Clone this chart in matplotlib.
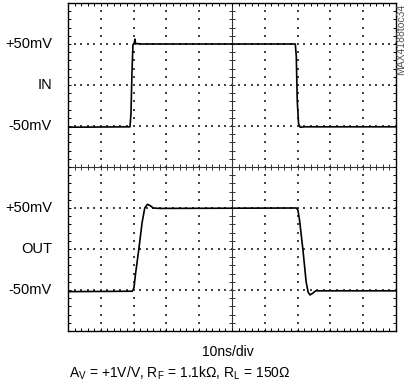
import numpy as np
import matplotlib
matplotlib.use('Agg')
import matplotlib.pyplot as plt
from matplotlib import font_manager

# pick a narrow sans if available
names = set(f.name for f in font_manager.fontManager.ttflist)
narrow = 'Liberation Sans Narrow' if 'Liberation Sans Narrow' in names else 'Liberation Sans'
plt.rcParams['font.family'] = [narrow, 'DejaVu Sans']
plt.rcParams['mathtext.fontset'] = 'custom'
plt.rcParams['mathtext.rm'] = narrow
plt.rcParams['mathtext.it'] = narrow

# scope traces, time in ns, amplitude in divisions (50mV/div)
t_in = [0, 18.9, 19.2, 19.5, 19.8, 20.2, 20.4, 20.6, 21.0, 22.0, 69.3, 69.6, 69.9, 70.3, 70.8, 72.0, 100]
v_in = [0.97, 0.98, 1.3, 2.3, 2.98, 3.02, 3.12, 3.0, 3.01, 3.0, 3.0, 2.7, 1.6, 1.05, 0.97, 0.98, 0.98]

t_out = [0, 19.6, 20.1, 20.6, 21.6, 22.6, 23.4, 24.2, 25.0, 26.0, 28.0, 69.6, 70.1, 70.6, 71.6, 72.6, 73.2, 73.8, 74.6, 75.5, 100]
v_out = [-3.04, -3.03, -2.95, -2.6, -2.0, -1.35, -1.0, -0.91, -0.94, -1.0, -1.01, -1.0, -1.05, -1.3, -2.0, -2.8, -3.05, -3.12, -3.08, -3.02, -3.02]

labels = ['+50mV', 'IN', '-50mV', '+50mV', 'OUT', '-50mV']
label_y = [3, 2, 1, -1, -2, -3]

fig = plt.figure(figsize=(4.09, 3.90), dpi=100)
ax = fig.add_axes([68/409, 59/390, 328/409, 328/390])
ax.set_xlim(0, 100)
ax.set_ylim(-4, 4)

# dotted graticule
for gx in range(10, 100, 10):
    if gx == 50:
        continue
    yy = np.arange(-4, 4.01, 0.2)
    ax.scatter(np.full(len(yy), gx), yy, s=1.2, c='#444444', marker='s', linewidths=0, zorder=1)
for gy in range(-3, 4):
    if gy == 0:
        continue
    xx = np.arange(0, 100.1, 2)
    ax.scatter(xx, np.full(len(xx), gy), s=1.2, c='#444444', marker='s', linewidths=0, zorder=1)

# center axes with ticks
ax.axhline(0, color='#333333', lw=0.8, zorder=1)
ax.axvline(50, color='#333333', lw=0.8, zorder=1)
xx = np.arange(0, 100.1, 2)
ax.plot(xx, np.zeros(len(xx)), ls='none', marker='|', ms=4, mew=0.7, color='#333333')
yy = np.arange(-4, 4.01, 0.2)
ax.plot(np.full(len(yy), 50), yy, ls='none', marker='_', ms=4, mew=0.7, color='#333333')

ax.plot(t_in, v_in, color='black', lw=1.2, zorder=3)
ax.plot(t_out, v_out, color='black', lw=1.2, zorder=3)

ax.set_xticks(np.arange(0, 100.1, 2))
ax.set_yticks(np.arange(-4, 4.01, 0.2))
ax.tick_params(direction='in', length=2.5, width=0.7, top=True, right=True,
               labelbottom=False, labelleft=False)
for s in ax.spines.values():
    s.set_linewidth(1.0)

trans = ax.get_yaxis_transform()
for lab, yv in zip(labels, label_y):
    ax.text(-0.049, yv, lab, transform=trans, ha='right', va='center', fontsize=10.5)

fig.text(401/409, 1 - 4/390, 'MAX4188toc34', rotation=90, ha='center', va='top',
         fontsize=7.5, color='#555555')
fig.text(228/409, 1 - 352/390, '10ns/div', ha='center', va='center', fontsize=10)
fig.text(69/409, 1 - 373/390,
         r'A$_{\rm V}$ = +1V/V, R$_{\rm F}$ = 1.1k$\Omega$, R$_{\rm L}$ = 150$\Omega$',
         ha='left', va='center', fontsize=10)

fig.savefig('out.png', dpi=100)
